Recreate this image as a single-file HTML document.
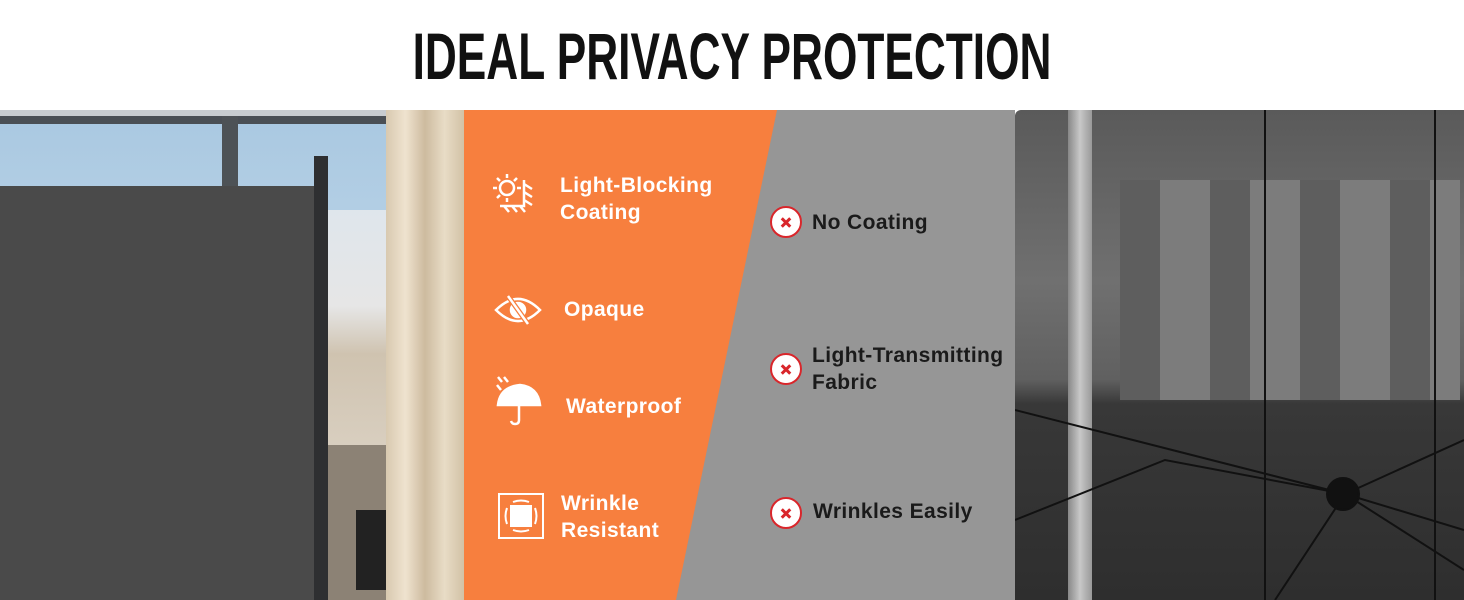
<!DOCTYPE html>
<html><head><meta charset="utf-8"><style>
*{margin:0;padding:0;box-sizing:border-box}
body{width:1464px;height:600px;overflow:hidden;background:#fff;position:relative;font-family:"Liberation Sans",Arial,sans-serif}
.t{position:absolute;left:0;top:18px;width:1464px;text-align:center;font-family:"Liberation Sans Narrow","Liberation Sans",sans-serif;font-weight:bold;font-size:66px;line-height:76px;color:#111;transform:scaleX(0.67);transform-origin:732px 0}
.a{position:absolute}
.w{color:#fff;font-weight:bold;font-size:21px;letter-spacing:0.4px;line-height:27px;position:absolute}
.g{color:#1a1a1a;font-weight:bold;font-size:21px;letter-spacing:0.4px;line-height:27px;position:absolute}
.x{position:absolute;width:32px;height:32px;border-radius:50%;background:#fff;border:2px solid #d9262b}
.x:before,.x:after{content:"";position:absolute;left:8px;top:13px;width:12px;height:3px;background:#d9262b;transform:rotate(45deg)}
.x:after{transform:rotate(-45deg)}
</style></head><body>
<div class="t">IDEAL PRIVACY PROTECTION</div>
<!-- left photo -->
<div class="a" style="left:0;top:110px;width:464px;height:490px;background:#c9b89f"></div>
<div class="a" style="left:0;top:110px;width:386px;height:340px;background:linear-gradient(#a9c8e1,#c9ddec)"></div>
<div class="a" style="left:326px;top:210px;width:60px;height:240px;background:linear-gradient(#dfe6ec,#e6e6e6 40%,#cfc3b0 60%,#d9cfc0)"></div>
<div class="a" style="left:0;top:110px;width:386px;height:6px;background:#c8ccd0"></div>
<div class="a" style="left:0;top:116px;width:386px;height:8px;background:#4a4f55"></div>
<div class="a" style="left:222px;top:116px;width:16px;height:70px;background:#4d5256"></div>
<div class="a" style="left:386px;top:110px;width:78px;height:490px;background:linear-gradient(90deg,#d8c9b0,#efe3cf,#cdbb9f,#e8dcc6,#d2c2a6)"></div>
<div class="a" style="left:326px;top:445px;width:60px;height:155px;background:#8c8275"></div>
<div class="a" style="left:356px;top:510px;width:30px;height:80px;background:#222"></div>
<div class="a" style="left:0;top:186px;width:316px;height:414px;background:#4a4a4a"></div>
<div class="a" style="left:314px;top:156px;width:14px;height:444px;background:#2e2f31"></div>
<!-- orange / gray -->
<svg class="a" style="left:464px;top:110px" width="551" height="490">
<rect width="551" height="490" fill="#969696"/>
<polygon points="0,0 313,0 212,490 0,490" fill="#f77f3e"/>
</svg>
<!-- icons -->
<svg class="a" style="left:490px;top:170px" width="60" height="55" fill="none" stroke="#fff" stroke-width="2.5">
<circle cx="17" cy="18" r="7"/><path d="M17 4v4M17 28v4M3 18h4M27 18h4M7 8l3 3M27 8l-3 3M7 28l3-3"/>
<path d="M34 10v26H10M34 14l8 5M34 22l8 5M34 30l8 5M14 36l5 6M22 36l5 6M30 36l5 6"/>
</svg>
<svg class="a" style="left:494px;top:294px" width="50" height="32" fill="none" stroke="#fff" stroke-width="2.5">
<path d="M2 16Q24 -6 46 16Q24 38 2 16Z"/><circle cx="24" cy="16" r="7" fill="#fff"/><path d="M14 2l20 28" stroke="#f77f3e" stroke-width="5"/><path d="M14 2l20 28"/>
</svg>
<svg class="a" style="left:494px;top:375px" width="50" height="52" fill="#fff" stroke="#fff" stroke-width="2.5">
<path d="M4 2l4 5M10 2l4 5M3 10l4 5" fill="none"/>
<path d="M4 30Q6 12 26 10Q44 12 46 30Z"/><path d="M25 30v15q0 4-4 4q-3 0-4-3" fill="none"/>
</svg>
<svg class="a" style="left:497px;top:492px" width="48" height="48" fill="none" stroke="#fff" stroke-width="2">
<rect x="2" y="2" width="44" height="44"/><rect x="14" y="14" width="20" height="20" fill="#fff"/>
<path d="M16 10q8-3 16 0M16 38q8 3 16 0M10 16q-3 8 0 16M38 16q3 8 0 16"/>
</svg>
<div class="w" style="left:560px;top:172px">Light-Blocking<br>Coating</div>
<div class="w" style="left:564px;top:296px">Opaque</div>
<div class="w" style="left:566px;top:393px">Waterproof</div>
<div class="w" style="left:561px;top:490px">Wrinkle<br>Resistant</div>
<div class="x" style="left:770px;top:206px"></div>
<div class="g" style="left:812px;top:209px">No Coating</div>
<div class="x" style="left:770px;top:353px"></div>
<div class="g" style="left:812px;top:342px">Light-Transmitting<br>Fabric</div>
<div class="x" style="left:770px;top:497px"></div>
<div class="g" style="left:813px;top:498px">Wrinkles Easily</div>
<!-- right photo -->
<div class="a" style="left:1015px;top:110px;width:449px;height:490px;background:linear-gradient(#5a5a5a,#707070 35%,#606060 55%,#383838 60%,#2e2e2e);border-radius:6px 0 0 0"></div>
<div class="a" style="left:1120px;top:180px;width:340px;height:220px;background:repeating-linear-gradient(90deg,#5e5e5e 0 40px,#7c7c7c 40px 90px)"></div>
<div class="a" style="left:1068px;top:110px;width:24px;height:490px;background:linear-gradient(90deg,#888,#c8c8c8,#999)"></div>
<svg class="a" style="left:1015px;top:110px" width="449" height="490" stroke="#111" stroke-width="2" fill="none">
<path d="M0 300L330 384L449 420M0 410L150 350L330 384L449 330M330 384L449 460M330 384L260 490M250 0V490M420 0V490"/>
<circle cx="328" cy="384" r="16" fill="#111"/>
</svg>
</body></html>
